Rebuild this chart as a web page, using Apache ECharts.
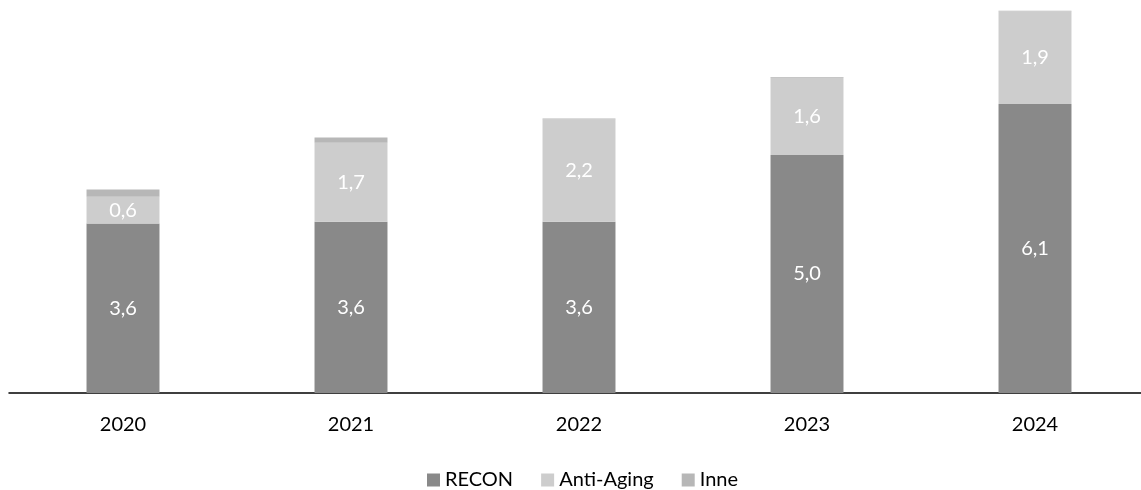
<!DOCTYPE html>
<html><head><meta charset="utf-8">
<script src="https://cdn.jsdelivr.net/npm/echarts@6/dist/echarts.min.js"></script>
<style>html,body{margin:0;padding:0;background:#fff;overflow:hidden}#c{width:1149px;height:490px}</style>
</head><body><div id="c"></div>
<script>
var categories = ['2020', '2021', '2022', '2023', '2024'];
var recon = [3.58, 3.62, 3.62, 5.03, 6.11];
var antiAging = [0.57, 1.67, 2.16, 1.63, 1.95];
var inne = [0.15, 0.11, 0.02, 0.02, 0.02];
var seriesNames = ['RECON', 'Anti-Aging', 'Inne'];

var FONT = 'Lato, "Open Sans", sans-serif';
function fmt(p){ return p.value.toFixed(1).replace('.', ','); }
var chart = echarts.init(document.getElementById('c'), null, {renderer:'canvas'});
chart.setOption({
  animation:false,
  backgroundColor:'#ffffff',
  grid:{left:9, right:0, top:5, height:388, containLabel:false},
  legend:{
    top:465, left:422, itemWidth:13, itemHeight:13, itemGap:28,
    icon:'rect',
    textStyle:{fontFamily:FONT, fontSize:20, color:'#000'},
    data:seriesNames
  },
  xAxis:{
    type:'category', data:categories,
    axisLine:{lineStyle:{color:'#000', width:1.5}},
    axisTick:{show:false},
    axisLabel:{fontFamily:FONT, fontSize:20, color:'#000', margin:22}
  },
  yAxis:{type:'value', min:0, max:8.2, show:false, splitLine:{show:false}},
  series:[
    {name:seriesNames[0], type:'bar', stack:'a', data:recon, barCategoryGap:'68%',
     itemStyle:{color:'#898989'},
     label:{show:true, position:'inside', color:'#fff', fontFamily:FONT, fontSize:20, formatter:fmt}},
    {name:seriesNames[1], type:'bar', stack:'a', data:antiAging,
     itemStyle:{color:'#cdcdcd'},
     label:{show:true, position:'inside', color:'#fff', fontFamily:FONT, fontSize:20, formatter:fmt}},
    {name:seriesNames[2], type:'bar', stack:'a', data:inne,
     itemStyle:{color:'#b7b7b7'}, label:{show:false}}
  ]
});
</script></body></html>
